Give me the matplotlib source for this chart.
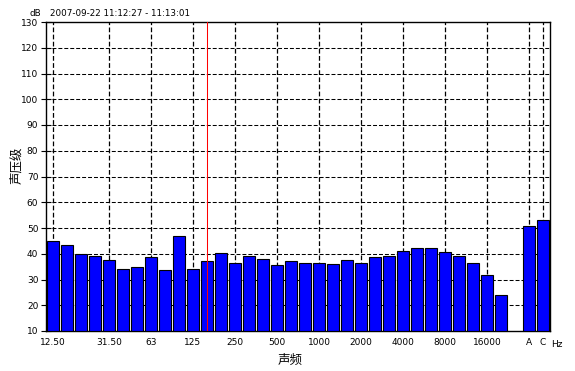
import matplotlib
matplotlib.use("Agg")
import matplotlib.pyplot as plt
import matplotlib.transforms as mtransforms

# Band levels (1/3 octave, 12.5 Hz .. 20 kHz), then an empty slot, then A and C
bands = ["12.5", "16", "20", "25", "31.5", "40", "50", "63", "80", "100", "125",
         "160", "200", "250", "315", "400", "500", "630", "800", "1000", "1250",
         "1600", "2000", "2500", "3150", "4000", "5000", "6300", "8000", "10000",
         "12500", "16000", "20000", "", "A", "C"]
levels = [45.0, 43.4, 39.9, 39.1, 37.5, 34.0, 34.8, 38.7, 33.6, 46.9, 34.0,
          37.1, 40.3, 36.4, 39.1, 37.9, 35.6, 37.1, 36.4, 36.4, 36.0,
          37.5, 36.4, 38.7, 39.1, 41.0, 42.2, 42.2, 40.6, 39.1,
          36.4, 31.7, 23.9, None, 50.8, 53.1]

# Labelled positions on the x axis
tick_idx = [0, 4, 7, 10, 13, 16, 19, 22, 25, 28, 31, 34, 35]
tick_text = ["12.50", "31.50", "63", "125", "250", "500", "1000", "2000",
             "4000", "8000", "16000", "A", "C"]
cursor_band = 11  # 160 Hz

plt.rcParams["font.family"] = ["DejaVu Sans", "Noto Sans CJK SC"]

fig = plt.figure(figsize=(5.75, 3.71), dpi=100)
ax = fig.add_axes([46 / 575, 1 - 331 / 371, 504 / 575, 309 / 371])

x = [i for i, v in enumerate(levels) if v is not None]
h = [v - 10 for v in levels if v is not None]
ax.bar(x, h, bottom=10, width=0.9, color="#0000ff", edgecolor="black",
       linewidth=0.8, zorder=3)

ax.set_xlim(-0.5, len(levels) - 0.5)
ax.set_ylim(10, 130)
ax.set_yticks(range(10, 131, 10))
ax.set_xticks(tick_idx)
ax.set_xticklabels(tick_text)

dash = (0, (3.8, 1.9))
for yv in range(20, 130, 10):
    ax.axhline(yv, color="black", lw=0.75, ls=dash, zorder=1)
for xv in tick_idx:
    ax.axvline(xv, color="black", lw=0.9, ls=dash, zorder=1)
ax.axvline(cursor_band, color="red", lw=0.75, zorder=4)

ax.tick_params(axis="y", direction="inout", length=7, width=0.8,
               labelsize=6.5, pad=2)
ax.tick_params(axis="x", length=0, labelsize=6.5, pad=5)
for s in ax.spines.values():
    s.set_linewidth(1.0)

trans = mtransforms.blended_transform_factory(ax.transData, ax.transAxes)
ax.text(len(levels), -0.03, "Hz", transform=trans, fontsize=6.5,
        ha="center", va="top", clip_on=False)

fig.text(30 / 575, 1 - 13 / 371, "dB", fontsize=6.3, va="center")
fig.text(50 / 575, 1 - 13 / 371, "2007-09-22 11:12:27 - 11:13:01",
         fontsize=6.3, va="center")

fig.text(290 / 575, 1 - 360 / 371, "声频", fontsize=9, ha="center",
         va="center", family=["Noto Sans CJK SC", "DejaVu Sans"])
fig.text(17 / 575, 1 - 165 / 371, "声压级", fontsize=9, ha="center",
         va="center", rotation=90, family=["Noto Sans CJK SC", "DejaVu Sans"])

fig.savefig("out.png", dpi=100)
